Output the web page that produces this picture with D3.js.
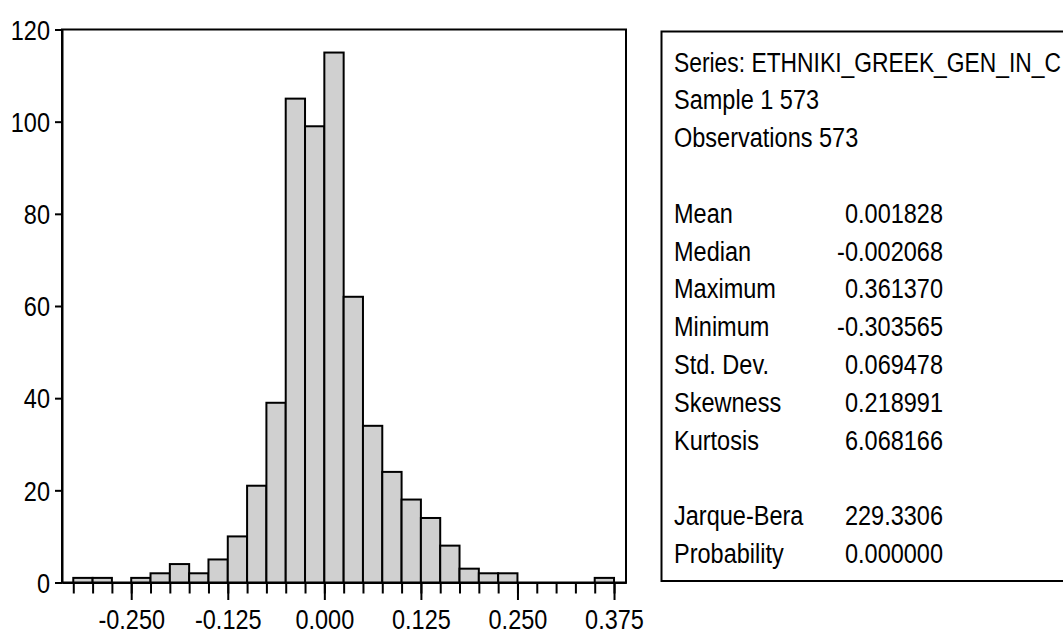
<!DOCTYPE html>
<html>
<head>
<meta charset="utf-8">
<script src="https://cdn.jsdelivr.net/npm/d3@7"></script>
<style>
  body { margin: 0; background: #fff; }
  svg text { font-family: "Liberation Sans", Arial, sans-serif; font-size: 28px; fill: #000; }
</style>
</head>
<body>
<svg id="chart" width="1063" height="634"></svg>
<script>
// histogram bins (left edge) and counts, bin width 0.025
var binStart = [-0.325, -0.300, -0.275, -0.250, -0.225, -0.200, -0.175, -0.150, -0.125, -0.100,
                -0.075, -0.050, -0.025, 0.000, 0.025, 0.050, 0.075, 0.100, 0.125, 0.150,
                0.175, 0.200, 0.225, 0.250, 0.275, 0.300, 0.325, 0.350];
var counts = [1, 1, 0, 1, 2, 4, 2, 5, 10, 21,
              39, 105, 99, 115, 62, 34, 24, 18, 14, 8,
              3, 2, 2, 0, 0, 0, 0, 1];
var binWidth = 0.025;

var xMajor = [-0.250, -0.125, 0.000, 0.125, 0.250, 0.375];
var yTicks = [0, 20, 40, 60, 80, 100, 120];

// statistics panel
var headerLines = ["Series: ETHNIKI_GREEK_GEN_IN_C", "Sample 1 573", "Observations 573"];
var statLabels = ["Mean", "Median", "Maximum", "Minimum", "Std. Dev.", "Skewness", "Kurtosis"];
var statValues = ["0.001828", "-0.002068", "0.361370", "-0.303565", "0.069478", "0.218991", "6.068166"];
var testLabels = ["Jarque-Bera", "Probability"];
var testValues = ["229.3306", "0.000000"];

var squeeze = 0.84; // EViews draws a narrow Arial

var svg = d3.select("#chart");

var x = d3.scaleLinear().domain([-0.3396, 0.3905]).range([62, 626]);
var y = d3.scaleLinear().domain([0, 120]).range([582.5, 29.5]);

var bins = binStart.map(function(b, i) { return {x0: b, x1: b + binWidth, n: counts[i]}; });

// compress text horizontally around its anchor point
function narrow(sel) {
  sel.each(function() {
    var t = d3.select(this);
    var tx = +t.attr("x") || 0, ty = +t.attr("y") || 0;
    t.attr("x", 0).attr("y", 0)
     .attr("transform", "translate(" + tx + "," + ty + ") scale(" + squeeze + ",1)");
  });
}

// frame
svg.append("rect")
    .attr("x", x.range()[0]).attr("y", y.range()[1])
    .attr("width", x.range()[1] - x.range()[0])
    .attr("height", y.range()[0] - y.range()[1])
    .attr("fill", "none").attr("stroke", "#000").attr("stroke-width", 2);

// bars
svg.append("g")
  .selectAll("rect")
  .data(bins.filter(function(d) { return d.n > 0; }))
  .enter().append("rect")
    .attr("x", function(d) { return x(d.x0); })
    .attr("width", function(d) { return x(d.x1) - x(d.x0); })
    .attr("y", function(d) { return y(d.n); })
    .attr("height", function(d) { return y(0) - y(d.n); })
    .attr("fill", "#d0d0d0")
    .attr("stroke", "#000")
    .attr("stroke-width", 2);

// x axis: minor ticks at every bin edge, longer ticks + labels at majors
var edges = binStart.concat([0.375]);
svg.append("g")
    .attr("transform", "translate(0," + y(0) + ")")
    .call(d3.axisBottom(x).tickValues(edges).tickSize(11).tickSizeOuter(0).tickFormat(""));

var xAxis = svg.append("g")
    .attr("transform", "translate(0," + y(0) + ")")
    .call(d3.axisBottom(x).tickValues(xMajor).tickSize(17.5).tickSizeOuter(0)
      .tickFormat(function(d) { return d.toFixed(3); }));
xAxis.selectAll("text").attr("y", 46.5).attr("dy", null).call(narrow);

var yAxis = svg.append("g")
    .attr("transform", "translate(" + x.range()[0] + ",0)")
    .call(d3.axisLeft(y).tickValues(yTicks).tickSize(7).tickSizeOuter(0).tickPadding(5));
yAxis.selectAll("text").attr("dy", "0.35em").call(narrow);

svg.selectAll(".domain, .tick line").attr("stroke-width", 2);

// stats box (right edge runs off the picture)
svg.append("rect")
    .attr("x", 661.5).attr("y", 31.5)
    .attr("width", 420).attr("height", 549.5)
    .attr("fill", "none").attr("stroke", "#000").attr("stroke-width", 2);

var rowY = function(k) { return 71.5 + 37.8 * k; };
var lx = 674, vx = 943;

var panel = svg.append("g");
headerLines.forEach(function(t, i) {
  var h = panel.append("text").attr("x", lx).attr("y", rowY(i)).text(t);
  if (i === 0) h.attr("textLength", (1061 - lx) / squeeze).attr("lengthAdjust", "spacingAndGlyphs");
});
statLabels.forEach(function(t, i) {
  panel.append("text").attr("x", lx).attr("y", rowY(i + 4)).text(t);
  panel.append("text").attr("x", vx).attr("y", rowY(i + 4)).attr("text-anchor", "end").text(statValues[i]);
});
testLabels.forEach(function(t, i) {
  panel.append("text").attr("x", lx).attr("y", rowY(i + 12)).text(t);
  panel.append("text").attr("x", vx).attr("y", rowY(i + 12)).attr("text-anchor", "end").text(testValues[i]);
});
panel.selectAll("text").call(narrow);
</script>
</body>
</html>
